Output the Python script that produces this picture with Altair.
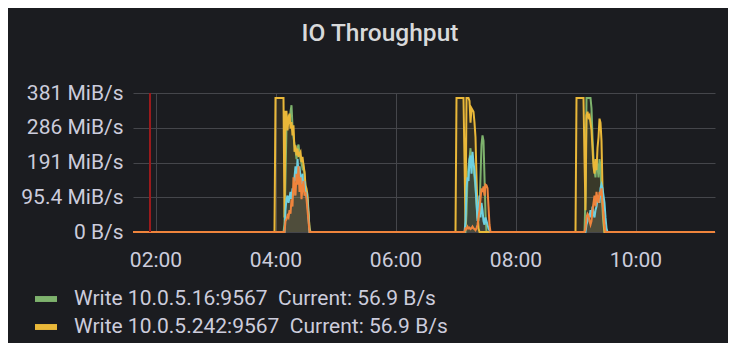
import altair as alt
import pandas as pd
from datetime import datetime, timezone

# ---------------- data (MiB/s, 1-minute samples) ----------------
series_names = [
    "Write 10.0.5.16:9567",
    "Write 10.0.5.242:9567",
    "Read 10.0.5.16:9567",
    "Read 10.0.5.242:9567",
]
series_colors = ["#7EB26D", "#EAB839", "#6ED0E0", "#EF843C"]
legend_current = "Current: 56.9 B/s"

burst_starts = [(4, 0), (7, 1), (9, 1)]  # hh, mm

green_b1 = [0]*9 + [20, 150, 290, 300, 320, 300, 330, 348, 290, 260, 240, 225, 200, 230, 240, 215, 200, 190, 175, 180, 160, 120, 110, 90, 50, 10, 0]
yellow_b1 = [368]*9 + [40, 330, 330, 279, 311, 325, 284, 302, 265, 293, 220, 238, 210, 229, 206, 215, 220, 192, 206, 183, 165, 128, 119, 101, 55, 9, 0]
cyan_b1 = [0]*10 + [60, 90, 100, 80, 95, 110, 90, 120, 100, 150, 180, 140, 200, 160, 180, 150, 130, 160, 120, 140, 100, 110, 80, 40, 0, 0]
orange_b1 = [0]*10 + [30, 35, 45, 40, 60, 50, 90, 70, 150, 120, 100, 160, 130, 180, 110, 150, 90, 120, 140, 100, 110, 90, 60, 30, 0, 0]

green_b2 = [0]*10 + [50, 150, 180, 200, 230, 180, 210, 170, 150, 120, 80, 40, 30, 60, 150, 240, 265, 250, 150, 50, 0, 0, 0, 0, 0]
yellow_b2 = [368]*8 + [200, 20, 368, 368, 368, 360, 300, 340, 335, 330, 300, 260, 150, 60, 10] + [0]*12
cyan_b2 = [0]*9 + [30, 120, 150, 140, 200, 210, 160, 220, 190, 170, 130, 80, 30, 60, 100, 40, 80, 60, 30, 20, 40, 30, 20, 10, 5, 0]
orange_b2 = [0]*9 + [10, 8, 15, 10, 12, 8, 10, 15, 10, 8, 5, 10, 20, 40, 60, 90, 120, 110, 125, 100, 130, 128, 120, 70, 20, 0]

green_b3 = [0]*9 + [100, 368, 368, 368, 368, 368, 340, 260, 200, 170, 150, 200, 180, 150, 200, 180, 100, 60, 20, 0, 0, 0, 0]
yellow_b3 = [368]*8 + [200, 60, 320, 330, 315, 320, 300, 280, 230, 180, 160, 200, 170, 230, 260, 311, 300, 250, 120, 40, 0, 0, 0, 0]
cyan_b3 = [0]*10 + [20, 30, 50, 40, 60, 40, 70, 50, 40, 60, 70, 90, 100, 80, 120, 130, 120, 100, 80, 40, 10, 0]
orange_b3 = [0]*9 + [10, 40, 50, 45, 30, 20, 30, 60, 80, 100, 70, 110, 90, 80, 110, 100, 120, 80, 50, 20, 0, 0, 0]

series_bursts = [
    [green_b1, green_b2, green_b3],
    [yellow_b1, yellow_b2, yellow_b3],
    [cyan_b1, cyan_b2, cyan_b3],
    [orange_b1, orange_b2, orange_b3],
]

annotation_time = (1, 54.5)
domain_start = (1, 37.5)
domain_end = (11, 19.5)
tick_times = [(2, 0), (4, 0), (6, 0), (8, 0), (10, 0)]

MIB_PER_1E8 = 1e8 / 1048576.0
y_ticks = [0, MIB_PER_1E8, 2 * MIB_PER_1E8, 3 * MIB_PER_1E8, 4 * MIB_PER_1E8]

# ---------------- build table ----------------
BASE_MS = datetime(2021, 6, 1, tzinfo=timezone.utc).timestamp() * 1000


def t(hm):
    h, m = hm
    return BASE_MS + (h * 60 + m) * 60000


rows = []
for name, bursts in zip(series_names, series_bursts):
    rows.append({"time": t(domain_start), "series": name, "value": 0})
    for (bh, bm), vals in zip(burst_starts, bursts):
        start = bh * 60 + bm
        rows.append({"time": t((0, start - 1)), "series": name, "value": 0})
        for i, v in enumerate(vals):
            rows.append({"time": t((0, start + i)), "series": name, "value": v})
    rows.append({"time": t(domain_end), "series": name, "value": 0})
df = pd.DataFrame(rows)
annot = pd.DataFrame({"time": [t(annotation_time)]})

TEXT = "#ccccdc"
GRID = "#45464b"
BG = "#1b1c20"
FONT = "Roboto"

x_enc = alt.X(
    "time:T",
    scale=alt.Scale(type="utc", domain=[t(domain_start), t(domain_end)]),
    axis=alt.Axis(
        values=[t(v) for v in tick_times],
        format="%H:%M",
        title=None,
        grid=True,
        gridColor=GRID,
        domain=False,
        ticks=False,
        labelFontSize=21,
        labelColor=TEXT,
        labelFont=FONT,
        labelPadding=17,
    ),
)
y_enc = alt.Y(
    "value:Q",
    stack=None,
    scale=alt.Scale(domain=[0, 4 * MIB_PER_1E8], nice=False, zero=True),
    axis=alt.Axis(
        values=y_ticks,
        labelExpr="datum.value == 0 ? '0 B/s' : format(datum.value, '.3~r') + ' MiB/s'",
        title=None,
        grid=True,
        gridColor=GRID,
        domain=False,
        ticks=False,
        labelFontSize=21,
        labelColor=TEXT,
        labelFont=FONT,
        labelPadding=10,
    ),
)
color_enc = alt.Color(
    "series:N",
    scale=alt.Scale(domain=series_names, range=series_colors),
    sort=series_names,
    legend=alt.Legend(
        values=series_names[:2],
        title=None,
        orient="none",
        legendX=-98,
        legendY=195,
        direction="vertical",
        symbolType="M-1,-0.27L1,-0.27L1,0.27L-1,0.27Z",
        symbolSize=484,
        symbolStrokeWidth=0,
        symbolOpacity=1,
        labelExpr="datum.label + '\u00a0 " + legend_current + "'",
        labelFontSize=21,
        labelColor=TEXT,
        labelFont=FONT,
        labelOffset=17,
        rowPadding=7,
        labelLimit=600,
    ),
)

area = alt.Chart(df).mark_area(opacity=0.1).encode(x=x_enc, y=y_enc, color=color_enc)
line = alt.Chart(df).mark_line(strokeWidth=2).encode(x=x_enc, y=y_enc, color=color_enc)
rule = alt.Chart(annot).mark_rule(color="#9a1a1c", strokeWidth=2).encode(x="time:T")

chart = (
    alt.layer(area, line, rule)
    .properties(
        width=582,
        height=139,
        autosize=alt.AutoSizeParams(type="none"),
        padding={"left": 125, "top": 85, "right": 13, "bottom": 111},
        background=BG,
        title=alt.TitleParams(
            "IO Throughput",
            fontSize=24.5,
            fontWeight=500,
            font=FONT,
            color="#d8d9da",
            anchor="middle",
            dx=-44,
            offset=17,
            baseline="alphabetic",
        ),
    )
    .configure_view(strokeWidth=0)
)

chart.save("out.html", embed_options={"renderer": "svg", "actions": False})
